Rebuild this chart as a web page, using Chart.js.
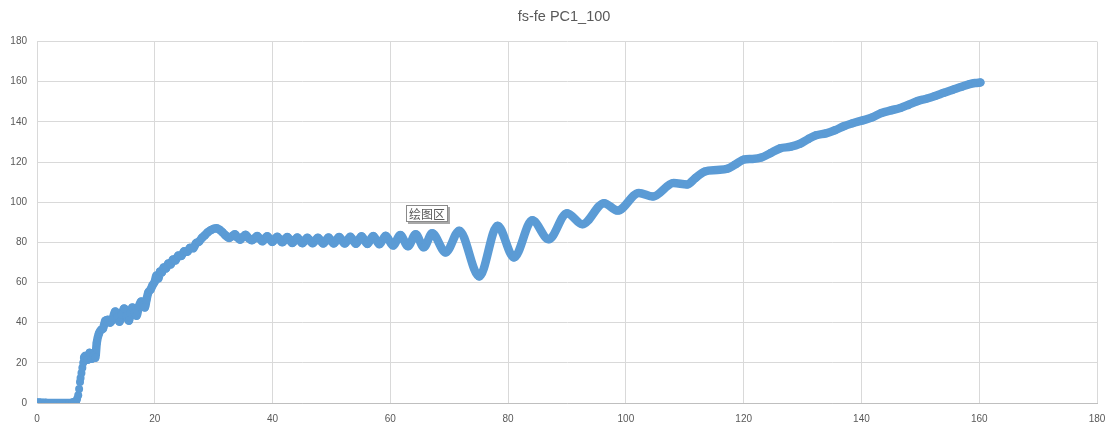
<!DOCTYPE html>
<html>
<head>
<meta charset="utf-8">
<script src="https://cdn.jsdelivr.net/npm/chart.js@4/dist/chart.umd.min.js"></script>
<style>
  html, body { margin: 0; padding: 0; background: #fff; }
  #wrap { position: relative; width: 1108px; height: 425px; }
  #tip {
    position: absolute; left: 406px; top: 205px; height: 15px; padding: 0 2px;
    border: 1px solid #8a8a8a; background: #fff; box-shadow: 2px 2px 0 #a8a8a8;
    font: 12px/15px "Noto Sans CJK SC", sans-serif; color: #595959; white-space: nowrap;
  }
</style>
</head>
<body>
<div id="wrap">
  <canvas id="c" width="1108" height="425"></canvas>
  <div id="tip">绘图区</div>
</div>
<script>
const TITLE = 'fs-fe PC1_100';
const X_TICKS = [0, 20, 40, 60, 80, 100, 120, 140, 160, 180];
const Y_TICKS = [0, 20, 40, 60, 80, 100, 120, 140, 160, 180];

// fs-fe response, x values
const X = [
  0.0, 0.5, 1.0, 1.5, 2.0, 2.5, 3.0, 3.5, 4.0, 4.5, 5.0, 5.5, 6.0, 6.3,
  6.6, 6.8, 7.0, 7.15, 7.3, 7.4, 7.55, 7.7, 7.85, 8.0,
  8.3, 8.6, 8.95, 9.3, 9.6, 9.9, 10.15, 10.5, 10.9, 11.2, 11.6, 12.0, 12.4, 12.8,
  13.3, 13.65, 14.0, 14.4, 14.8, 15.2, 15.6, 15.9, 16.2, 16.6, 16.9, 17.3, 17.7,
  18.0, 18.3, 18.6, 18.9, 19.3, 19.6, 20.0, 20.3, 20.6, 20.9, 21.2, 21.5, 21.9,
  22.3, 22.7, 23.1, 23.5, 24.0, 24.5, 25.0, 25.5, 26.0, 26.5, 27.0, 27.5, 28.0,
  28.5, 29.0, 29.5, 30.0, 30.5, 31.0, 31.5, 32.0, 32.6, 33.1, 33.6, 34.0, 34.5,
  35.0, 35.4, 35.9, 36.5,
  37.4, 38.25, 39.1, 39.95, 40.8, 41.65, 42.5, 43.35, 44.2, 45.05, 45.9, 46.8,
  47.7, 48.6, 49.5, 50.4, 51.3, 52.25, 53.2, 54.15, 55.1, 56.1, 57.1, 58.15,
  59.2, 60.45, 61.7, 63.0, 64.3, 65.7, 67.1, 69.4, 71.7,
  75.1, 78.2, 81.0, 84.1, 86.9, 90.0, 92.6, 96.3, 98.6, 102.2, 104.6, 108.1, 110.4,
  111.8, 113.4, 115.5, 117.2, 118.6, 120.0, 121.5, 123.0, 124.6, 126.2, 128.0,
  129.5, 131.0, 132.3, 134.0, 135.5, 137.0, 138.5, 140.2, 141.8, 143.4, 145.0,
  146.6, 148.0, 149.5, 151.0, 152.5, 154.0, 155.5, 157.0, 158.4, 159.3, 160.2
];

// fs-fe response, y values
const Y = [
  0.3, 0.2, 0.1, 0.1, 0, 0, 0, 0, 0, 0, 0, 0, 0.2, 0.5,
  0.8, 2, 3.8, 7, 10.5, 12.5, 15, 17.5, 20, 22.5,
  23.5, 21.5, 25, 22, 23.5, 22.5, 30, 34.5, 36.5, 37, 41, 41.5, 40, 41.5,
  45.5, 43, 40.5, 44, 47, 43.5, 41, 45, 47.5, 45, 43.5, 48, 50.5,
  48.5, 47.5, 51.5, 55, 56.5, 58.5, 60.5, 63.5, 62, 65.5, 65, 67.5, 67,
  69.5, 69, 71.5, 71, 73.5, 73.2, 75.5, 75.3, 77.3, 77, 79.5, 80.3, 82.2,
  83.5, 85, 86, 86.8, 87, 86.3, 85, 83.5, 82.2, 83, 84, 82.5, 81.3,
  82.8, 83.8, 82.2, 81,
  83.2, 80.5, 83, 80.2, 82.8, 80, 82.6, 79.7, 82.4, 79.6, 82.3, 79.5,
  82.3, 79.4, 82.4, 79.4, 82.6, 79.4, 82.8, 79.3, 83, 79.2, 83.2, 79,
  83.3, 78.4, 83.6, 78, 84, 77.5, 84.5, 75, 85.8,
  63, 88.3, 72.5, 91, 81.5, 94.5, 89, 99.5, 95.8, 104.6, 102.8, 109.5, 108.8,
  112, 115.3, 116, 116.6, 118.8, 121.2, 121.5, 122.2, 124.5, 126.8, 127.6,
  129, 131.5, 133.3, 134.3, 135.8, 137.8, 139.3, 140.7, 142.2, 144.4, 145.7,
  146.9, 148.5, 150.3, 151.5, 152.9, 154.5, 156, 157.5, 158.8, 159.3, 159.6
];

const BLUE = '#5B9BD5';
const GRID = '#D9D9D9';
const TEXT = '#595959';

const titlePlugin = {
  id: 'centredTitle',
  afterDraw(chart) {
    const c = chart.ctx;
    c.save();
    c.fillStyle = TEXT;
    c.font = '14.5px "Liberation Sans", Arial, sans-serif';
    c.textAlign = 'center';
    c.textBaseline = 'middle';
    c.fillText(TITLE, 564, 17);
    c.restore();
  }
};

const tickFont = { family: '"Liberation Sans", Arial, sans-serif', size: 10 };

new Chart(document.getElementById('c'), {
  type: 'scatter',
  data: {
    datasets: [{
      data: X.map((x, i) => ({ x, y: Y[i] })),
      showLine: true,
      borderColor: BLUE,
      backgroundColor: BLUE,
      borderWidth: 8.5,
      borderCapStyle: 'round',
      borderJoinStyle: 'round',
      cubicInterpolationMode: 'monotone',
      pointRadius: 4,
      pointBorderWidth: 0,
      segment: {
        // the sparse onset samples show as separate dots
        borderColor: s => (s.p0.parsed.x >= 6.5 && s.p1.parsed.x <= 8.0) ? 'rgba(0,0,0,0)' : undefined
      }
    }]
  },
  options: {
    responsive: false,
    animation: false,
    events: [],
    layout: { padding: { left: 0, right: 11, top: 41.5, bottom: 0 } },
    plugins: {
      legend: { display: false },
      tooltip: { enabled: false },
      title: { display: false }
    },
    scales: {
      x: {
        type: 'linear', min: 0, max: 180,
        afterBuildTicks: s => { s.ticks = X_TICKS.map(v => ({ value: v })); },
        afterFit: s => { s.height = 22; s.paddingLeft = 0; s.paddingRight = 0; },
        grid: { color: GRID, drawTicks: false },
        border: { color: '#BFBFBF' },
        ticks: { padding: 10, color: TEXT, font: tickFont }
      },
      y: {
        type: 'linear', min: 0, max: 180,
        afterBuildTicks: s => { s.ticks = Y_TICKS.map(v => ({ value: v })); },
        afterFit: s => { s.width = 37; s.paddingTop = 0; s.paddingBottom = 0; },
        grid: { color: GRID, drawTicks: false },
        border: { color: GRID },
        ticks: { padding: 10, color: TEXT, font: tickFont }
      }
    }
  },
  plugins: [titlePlugin]
});
</script>
</body>
</html>
